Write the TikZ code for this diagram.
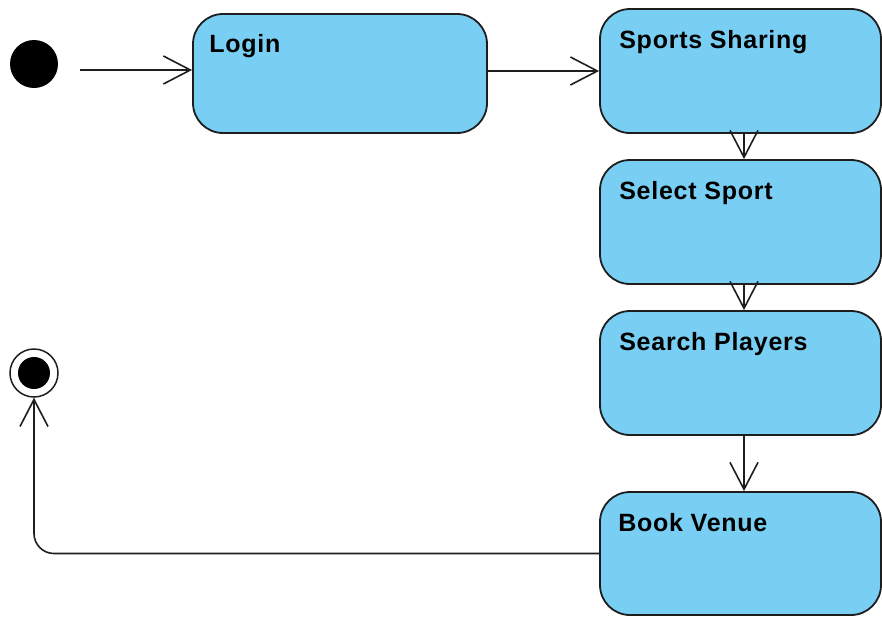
\documentclass[tikz,border=0pt]{standalone}
\usepackage{fontspec}
\setmainfont{Liberation Sans}[LetterSpace=3]
\usetikzlibrary{arrows.meta}
\definecolor{statefill}{HTML}{79CEF3}
\definecolor{ink}{HTML}{1E1E1E}
\begin{document}
\begin{tikzpicture}[x=1pt,y=-1pt,
  statebox/.style={draw=ink, line width=1.8pt, fill=statefill, rounded corners=30pt,
    rectangle, inner sep=0pt, minimum width=281pt, minimum height=124pt},
  statelabel/.style={anchor=base west, inner sep=0pt, text=black,
    font=\fontsize{25}{29}\selectfont\bfseries},
  flow/.style={draw=ink, line width=1.6pt,
    -{Straight Barb[length=27pt,width=28pt,line width=1.6pt]}}]
  \useasboundingbox (0,0) rectangle (882,616);

  % states
  \node[statebox, minimum width=294pt, minimum height=119pt] (login) at (340,73.5) {};
  \node[statebox] (sports) at (740.5,71) {};
  \node[statebox] (select) at (740.5,222) {};
  \node[statebox] (search) at (740.5,373) {};
  \node[statebox, minimum height=123pt] (book) at (740.5,553.5) {};

  % state names, set in the upper left of each box
  \node[statelabel] (loginT)  at ([shift={(17,39)}]login.south west |- login.north) {Login};
  \node[statelabel] (sportsT) at ([shift={(20,40)}]sports.south west |- sports.north) {Sports Sharing};
  \node[statelabel] (selectT) at ([shift={(20,40)}]select.south west |- select.north) {Select Sport};
  \node[statelabel] (searchT) at ([shift={(20,40)}]search.south west |- search.north) {Search Players};
  \node[statelabel] (bookT)   at ([shift={(19,40)}]book.south west |- book.north) {Book Venue};

  % initial and final pseudo-states
  \node[circle, fill=black, minimum size=48pt, inner sep=0pt] (init) at (34,64) {};
  \node[circle, draw=ink, line width=1.5pt, minimum size=48pt, inner sep=0pt] (final) at (34,373) {};
  \fill[black] (final.center) circle (16pt);

  % transitions
  \coordinate (start) at (80,70);
  \path[flow] (start) -- (login.west |- start);
  \path[flow] (login.east |- sports.west) -- (sports.west);
  \path[flow] ([xshift=3.5pt]sports.south) -- ([xshift=3.5pt]select.north);
  \path[flow] ([xshift=3.5pt]select.south) -- ([xshift=3.5pt]search.north);
  \path[flow] ([xshift=3.5pt]search.south) -- ([xshift=3.5pt]book.north);
  \path[flow, rounded corners=20pt] (book.west) -| (final.south);
\end{tikzpicture}
\end{document}
